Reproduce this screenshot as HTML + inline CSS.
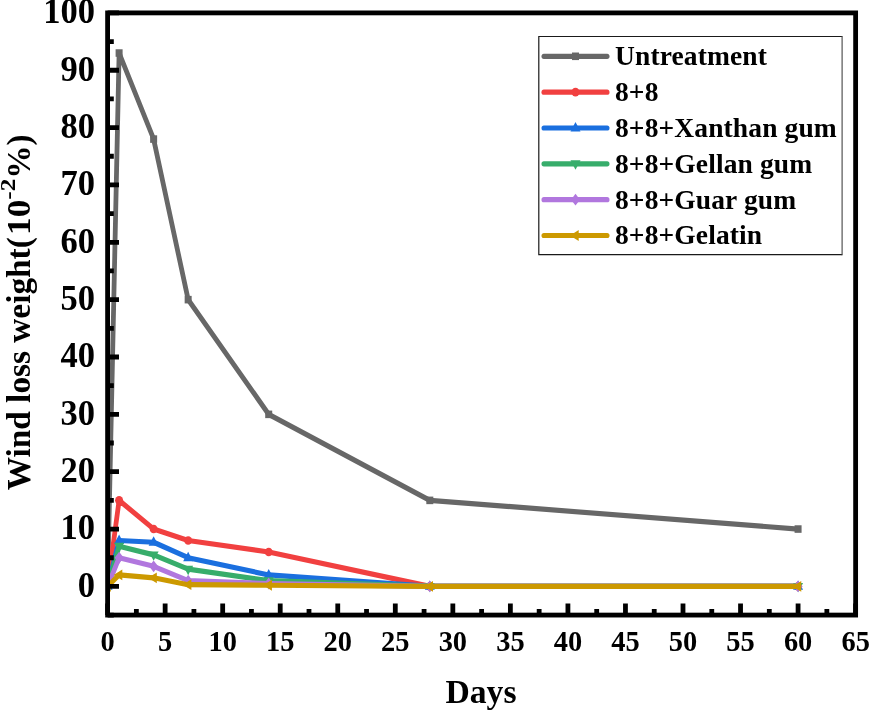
<!DOCTYPE html>
<html><head><meta charset="utf-8"><title>Wind loss weight</title>
<style>html,body{margin:0;padding:0;background:#fff;overflow:hidden}svg{display:block}text{font-family:"Liberation Serif","Times New Roman",serif;font-weight:bold;fill:#000}</style></head><body>
<svg width="869" height="711" viewBox="0 0 869 711">
<rect width="869" height="711" fill="#fff"/>
<defs><clipPath id="c"><rect x="107.60" y="12.90" width="748.02" height="602.17"/></clipPath></defs>
<g clip-path="url(#c)"><g transform="scale(1,1.08)">
<polyline points="107.60,542.96 119.11,49.12 153.63,128.77 188.16,277.45 268.71,383.66 429.82,463.31 798.08,489.86" fill="none" stroke="#676767" stroke-width="4.8" stroke-linejoin="round" stroke-linecap="round"/>
<rect x="104.10" y="539.46" width="7.0" height="7.0" fill="#676767"/>
<rect x="115.61" y="45.62" width="7.0" height="7.0" fill="#676767"/>
<rect x="150.13" y="125.27" width="7.0" height="7.0" fill="#676767"/>
<rect x="184.66" y="273.95" width="7.0" height="7.0" fill="#676767"/>
<rect x="265.21" y="380.16" width="7.0" height="7.0" fill="#676767"/>
<rect x="426.32" y="459.81" width="7.0" height="7.0" fill="#676767"/>
<rect x="794.58" y="486.36" width="7.0" height="7.0" fill="#676767"/>
<polyline points="107.60,542.96 119.11,463.31 153.63,489.86 188.16,500.48 268.71,511.10 429.82,542.96 798.08,542.96" fill="none" stroke="#F14040" stroke-width="4.8" stroke-linejoin="round" stroke-linecap="round"/>
<circle cx="107.60" cy="542.96" r="4.0" fill="#F14040"/>
<circle cx="119.11" cy="463.31" r="4.0" fill="#F14040"/>
<circle cx="153.63" cy="489.86" r="4.0" fill="#F14040"/>
<circle cx="188.16" cy="500.48" r="4.0" fill="#F14040"/>
<circle cx="268.71" cy="511.10" r="4.0" fill="#F14040"/>
<circle cx="429.82" cy="542.96" r="4.0" fill="#F14040"/>
<circle cx="798.08" cy="542.96" r="4.0" fill="#F14040"/>
<polyline points="107.60,542.96 119.11,500.48 153.63,502.07 188.16,516.41 268.71,532.34 429.82,542.96 798.08,542.96" fill="none" stroke="#1A6FDF" stroke-width="4.8" stroke-linejoin="round" stroke-linecap="round"/>
<polygon points="107.60,537.46 112.60,546.16 102.60,546.16" fill="#1A6FDF"/>
<polygon points="119.11,494.98 124.11,503.68 114.11,503.68" fill="#1A6FDF"/>
<polygon points="153.63,496.57 158.63,505.27 148.63,505.27" fill="#1A6FDF"/>
<polygon points="188.16,510.91 193.16,519.61 183.16,519.61" fill="#1A6FDF"/>
<polygon points="268.71,526.84 273.71,535.54 263.71,535.54" fill="#1A6FDF"/>
<polygon points="429.82,537.46 434.82,546.16 424.82,546.16" fill="#1A6FDF"/>
<polygon points="798.08,537.46 803.08,546.16 793.08,546.16" fill="#1A6FDF"/>
<polyline points="107.60,542.96 119.11,505.79 153.63,513.76 188.16,527.03 268.71,537.65 429.82,542.96 798.08,542.96" fill="none" stroke="#37AD6B" stroke-width="4.8" stroke-linejoin="round" stroke-linecap="round"/>
<polygon points="107.60,548.46 112.60,539.76 102.60,539.76" fill="#37AD6B"/>
<polygon points="119.11,511.29 124.11,502.59 114.11,502.59" fill="#37AD6B"/>
<polygon points="153.63,519.26 158.63,510.56 148.63,510.56" fill="#37AD6B"/>
<polygon points="188.16,532.53 193.16,523.83 183.16,523.83" fill="#37AD6B"/>
<polygon points="268.71,543.15 273.71,534.45 263.71,534.45" fill="#37AD6B"/>
<polygon points="429.82,548.46 434.82,539.76 424.82,539.76" fill="#37AD6B"/>
<polygon points="798.08,548.46 803.08,539.76 793.08,539.76" fill="#37AD6B"/>
<polyline points="107.60,542.96 119.11,516.41 153.63,524.38 188.16,537.65 268.71,540.31 429.82,542.96 798.08,542.96" fill="none" stroke="#B177DE" stroke-width="4.8" stroke-linejoin="round" stroke-linecap="round"/>
<polygon points="107.60,537.46 112.10,542.96 107.60,548.46 103.10,542.96" fill="#B177DE"/>
<polygon points="119.11,510.91 123.61,516.41 119.11,521.91 114.61,516.41" fill="#B177DE"/>
<polygon points="153.63,518.88 158.13,524.38 153.63,529.88 149.13,524.38" fill="#B177DE"/>
<polygon points="188.16,532.15 192.66,537.65 188.16,543.15 183.66,537.65" fill="#B177DE"/>
<polygon points="268.71,534.81 273.21,540.31 268.71,545.81 264.21,540.31" fill="#B177DE"/>
<polygon points="429.82,537.46 434.32,542.96 429.82,548.46 425.32,542.96" fill="#B177DE"/>
<polygon points="798.08,537.46 802.58,542.96 798.08,548.46 793.58,542.96" fill="#B177DE"/>
<polyline points="107.60,542.96 119.11,532.34 153.63,535.00 188.16,541.37 268.71,541.90 429.82,542.96 798.08,542.96" fill="none" stroke="#CC9900" stroke-width="4.8" stroke-linejoin="round" stroke-linecap="round"/>
<polygon points="102.10,542.96 110.80,537.96 110.80,547.96" fill="#CC9900"/>
<polygon points="113.61,532.34 122.31,527.34 122.31,537.34" fill="#CC9900"/>
<polygon points="148.13,535.00 156.83,530.00 156.83,540.00" fill="#CC9900"/>
<polygon points="182.66,541.37 191.36,536.37 191.36,546.37" fill="#CC9900"/>
<polygon points="263.21,541.90 271.91,536.90 271.91,546.90" fill="#CC9900"/>
<polygon points="424.32,542.96 433.02,537.96 433.02,547.96" fill="#CC9900"/>
<polygon points="792.58,542.96 801.28,537.96 801.28,547.96" fill="#CC9900"/>
</g></g>
<path d="M107.60,586.40h11.4 M107.60,529.05h11.4 M107.60,471.70h11.4 M107.60,414.35h11.4 M107.60,357.00h11.4 M107.60,299.65h11.4 M107.60,242.30h11.4 M107.60,184.95h11.4 M107.60,127.60h11.4 M107.60,70.25h11.4 M107.60,12.90h11.4 M107.60,615.07h6.2 M107.60,557.73h6.2 M107.60,500.38h6.2 M107.60,443.02h6.2 M107.60,385.67h6.2 M107.60,328.32h6.2 M107.60,270.97h6.2 M107.60,213.62h6.2 M107.60,156.27h6.2 M107.60,98.92h6.2 M107.60,41.57h6.2 M107.60,615.07v-11.6 M165.14,615.07v-11.6 M222.68,615.07v-11.6 M280.22,615.07v-11.6 M337.76,615.07v-11.6 M395.30,615.07v-11.6 M452.84,615.07v-11.6 M510.38,615.07v-11.6 M567.92,615.07v-11.6 M625.46,615.07v-11.6 M683.00,615.07v-11.6 M740.54,615.07v-11.6 M798.08,615.07v-11.6 M855.62,615.07v-11.6 M136.37,615.07v-6 M193.91,615.07v-6 M251.45,615.07v-6 M308.99,615.07v-6 M366.53,615.07v-6 M424.07,615.07v-6 M481.61,615.07v-6 M539.15,615.07v-6 M596.69,615.07v-6 M654.23,615.07v-6 M711.77,615.07v-6 M769.31,615.07v-6 M826.85,615.07v-6" stroke="#000" stroke-width="4.8" fill="none"/>
<rect x="107.60" y="12.90" width="748.02" height="602.17" fill="none" stroke="#000" stroke-width="4.8"/>
<text transform="translate(95,596.80) scale(1,1.04)" font-size="34.5" text-anchor="end">0</text>
<text transform="translate(95,539.45) scale(1,1.04)" font-size="34.5" text-anchor="end">10</text>
<text transform="translate(95,482.10) scale(1,1.04)" font-size="34.5" text-anchor="end">20</text>
<text transform="translate(95,424.75) scale(1,1.04)" font-size="34.5" text-anchor="end">30</text>
<text transform="translate(95,367.40) scale(1,1.04)" font-size="34.5" text-anchor="end">40</text>
<text transform="translate(95,310.05) scale(1,1.04)" font-size="34.5" text-anchor="end">50</text>
<text transform="translate(95,252.70) scale(1,1.04)" font-size="34.5" text-anchor="end">60</text>
<text transform="translate(95,195.35) scale(1,1.04)" font-size="34.5" text-anchor="end">70</text>
<text transform="translate(95,138.00) scale(1,1.04)" font-size="34.5" text-anchor="end">80</text>
<text transform="translate(95,80.65) scale(1,1.04)" font-size="34.5" text-anchor="end">90</text>
<text transform="translate(95,23.30) scale(1,1.04)" font-size="34.5" text-anchor="end">100</text>
<text transform="translate(107.60,650.6) scale(0.98,1.045)" font-size="29" text-anchor="middle">0</text>
<text transform="translate(165.14,650.6) scale(0.98,1.045)" font-size="29" text-anchor="middle">5</text>
<text transform="translate(222.68,650.6) scale(0.98,1.045)" font-size="29" text-anchor="middle">10</text>
<text transform="translate(280.22,650.6) scale(0.98,1.045)" font-size="29" text-anchor="middle">15</text>
<text transform="translate(337.76,650.6) scale(0.98,1.045)" font-size="29" text-anchor="middle">20</text>
<text transform="translate(395.30,650.6) scale(0.98,1.045)" font-size="29" text-anchor="middle">25</text>
<text transform="translate(452.84,650.6) scale(0.98,1.045)" font-size="29" text-anchor="middle">30</text>
<text transform="translate(510.38,650.6) scale(0.98,1.045)" font-size="29" text-anchor="middle">35</text>
<text transform="translate(567.92,650.6) scale(0.98,1.045)" font-size="29" text-anchor="middle">40</text>
<text transform="translate(625.46,650.6) scale(0.98,1.045)" font-size="29" text-anchor="middle">45</text>
<text transform="translate(683.00,650.6) scale(0.98,1.045)" font-size="29" text-anchor="middle">50</text>
<text transform="translate(740.54,650.6) scale(0.98,1.045)" font-size="29" text-anchor="middle">55</text>
<text transform="translate(798.08,650.6) scale(0.98,1.045)" font-size="29" text-anchor="middle">60</text>
<text transform="translate(855.62,650.6) scale(0.98,1.045)" font-size="29" text-anchor="middle">65</text>
<text transform="translate(481,703.2) scale(1.02,1)" font-size="33" text-anchor="middle">Days</text>
<g transform="translate(30,486.75) rotate(-90)" font-size="33"><text transform="translate(-3.5,0) scale(1.01,1)">Wind loss weight(</text><text transform="translate(287.05,0) scale(1.07,1)" text-anchor="end">10</text><text transform="translate(287.05,-14.9) scale(1.173,1)" font-size="21.5">-2</text><text transform="translate(308.05,0) scale(1.01,1)">%)</text></g>
<rect x="538.8" y="36.5" width="303.4" height="218.2" fill="#fff" stroke="none"/>
<path d="M842.2,36.5H538.8V254.7H842.2" fill="none" stroke="#1a1a1a" stroke-width="1.2" stroke-linejoin="miter"/>
<path d="M842.1,36V255.3" fill="none" stroke="#444" stroke-width="1.1"/>
<g transform="scale(1,1.08)"><line x1="543.9" y1="52.13" x2="607.1" y2="52.13" stroke="#676767" stroke-width="4.8" stroke-linecap="round"/><rect x="572.00" y="48.63" width="7.0" height="7.0" fill="#676767"/></g>
<text x="615" y="65.20" font-size="27.5" letter-spacing="0.12">Untreatment</text>
<g transform="scale(1,1.08)"><line x1="543.9" y1="85.31" x2="607.1" y2="85.31" stroke="#F14040" stroke-width="4.8" stroke-linecap="round"/><circle cx="575.50" cy="85.31" r="4.0" fill="#F14040"/></g>
<text x="615" y="101.04" font-size="27.5" letter-spacing="0.12">8+8</text>
<g transform="scale(1,1.08)"><line x1="543.9" y1="118.50" x2="607.1" y2="118.50" stroke="#1A6FDF" stroke-width="4.8" stroke-linecap="round"/><polygon points="575.50,113.00 580.50,121.70 570.50,121.70" fill="#1A6FDF"/></g>
<text x="615" y="136.88" font-size="27.5" letter-spacing="0.12">8+8+Xanthan gum</text>
<g transform="scale(1,1.08)"><line x1="543.9" y1="151.69" x2="607.1" y2="151.69" stroke="#37AD6B" stroke-width="4.8" stroke-linecap="round"/><polygon points="575.50,157.19 580.50,148.49 570.50,148.49" fill="#37AD6B"/></g>
<text x="615" y="172.72" font-size="27.5" letter-spacing="0.12">8+8+Gellan gum</text>
<g transform="scale(1,1.08)"><line x1="543.9" y1="184.87" x2="607.1" y2="184.87" stroke="#B177DE" stroke-width="4.8" stroke-linecap="round"/><polygon points="575.50,179.37 580.00,184.87 575.50,190.37 571.00,184.87" fill="#B177DE"/></g>
<text x="615" y="208.56" font-size="27.5" letter-spacing="0.12">8+8+Guar gum</text>
<g transform="scale(1,1.08)"><line x1="543.9" y1="218.06" x2="607.1" y2="218.06" stroke="#CC9900" stroke-width="4.8" stroke-linecap="round"/><polygon points="570.00,218.06 578.70,213.06 578.70,223.06" fill="#CC9900"/></g>
<text x="615" y="244.40" font-size="27.5" letter-spacing="0.12">8+8+Gelatin</text>
</svg></body></html>
